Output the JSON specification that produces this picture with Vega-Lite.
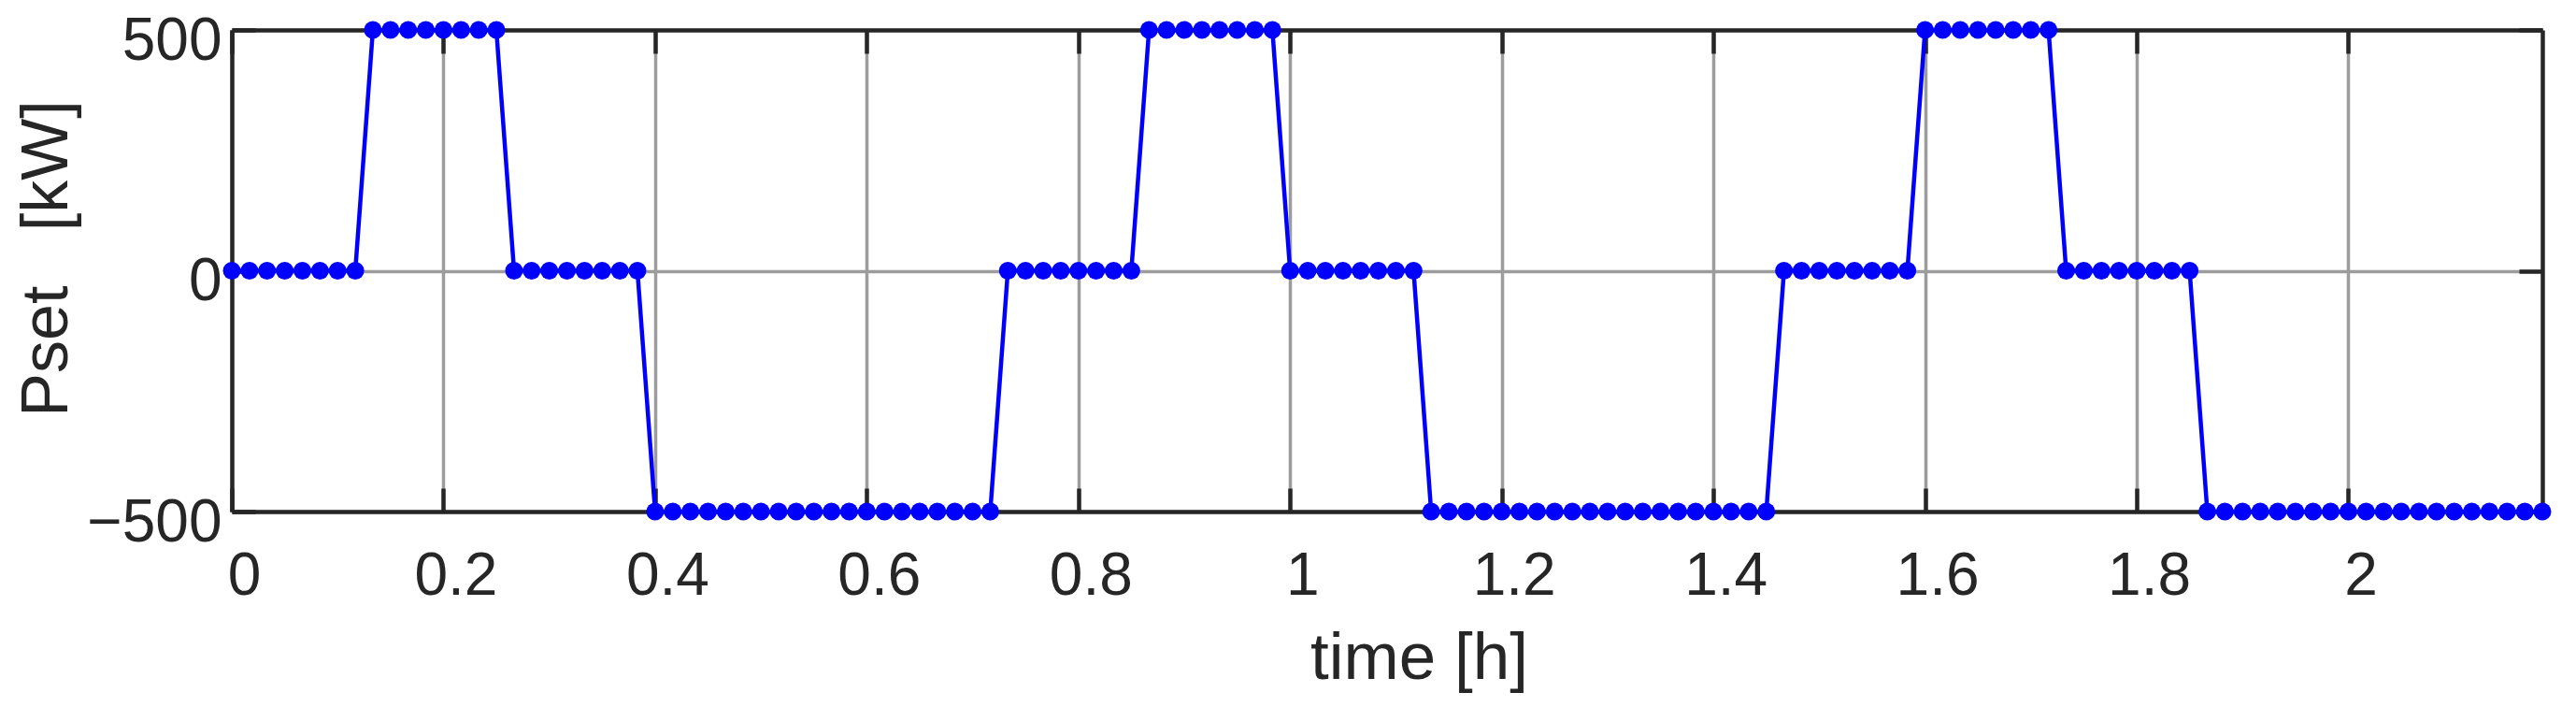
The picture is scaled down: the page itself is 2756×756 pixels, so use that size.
{
  "$schema": "https://vega.github.io/schema/vega-lite/v6.json",
  "width": 2472,
  "height": 515,
  "autosize": {"type": "none"},
  "padding": {"left": 248, "top": 32, "right": 36, "bottom": 209},
  "background": "white",
  "config": {
    "view": {"stroke": null},
    "font": "Liberation Sans",
    "axis": {
      "domainColor": "#262626",
      "domainWidth": 4.5,
      "tickColor": "#262626",
      "tickWidth": 4.5,
      "tickSize": -25,
      "labelColor": "#262626",
      "labelFont": "Liberation Sans",
      "labelFontSize": 64,
      "titleColor": "#262626",
      "titleFont": "Liberation Sans",
      "titleFontWeight": "normal",
      "gridColor": "#9c9c9c",
      "gridWidth": 3.5,
      "gridOpacity": 1,
      "labelFlush": false,
      "labelOverlap": false,
      "labelBound": false
    }
  },
  "data": {
    "values": [
      {"t": 0, "p": 0}, {"t": 0.0167, "p": 0}, {"t": 0.0333, "p": 0}, {"t": 0.05, "p": 0},
      {"t": 0.0667, "p": 0}, {"t": 0.0833, "p": 0}, {"t": 0.1, "p": 0}, {"t": 0.1167, "p": 0},
      {"t": 0.1333, "p": 500}, {"t": 0.15, "p": 500}, {"t": 0.1667, "p": 500}, {"t": 0.1833, "p": 500},
      {"t": 0.2, "p": 500}, {"t": 0.2167, "p": 500}, {"t": 0.2333, "p": 500}, {"t": 0.25, "p": 500},
      {"t": 0.2667, "p": 0}, {"t": 0.2833, "p": 0}, {"t": 0.3, "p": 0}, {"t": 0.3167, "p": 0},
      {"t": 0.3333, "p": 0}, {"t": 0.35, "p": 0}, {"t": 0.3667, "p": 0}, {"t": 0.3833, "p": 0},
      {"t": 0.4, "p": -500}, {"t": 0.4167, "p": -500}, {"t": 0.4333, "p": -500}, {"t": 0.45, "p": -500},
      {"t": 0.4667, "p": -500}, {"t": 0.4833, "p": -500}, {"t": 0.5, "p": -500}, {"t": 0.5167, "p": -500},
      {"t": 0.5333, "p": -500}, {"t": 0.55, "p": -500}, {"t": 0.5667, "p": -500}, {"t": 0.5833, "p": -500},
      {"t": 0.6, "p": -500}, {"t": 0.6167, "p": -500}, {"t": 0.6333, "p": -500}, {"t": 0.65, "p": -500},
      {"t": 0.6667, "p": -500}, {"t": 0.6833, "p": -500}, {"t": 0.7, "p": -500}, {"t": 0.7167, "p": -500},
      {"t": 0.7333, "p": 0}, {"t": 0.75, "p": 0}, {"t": 0.7667, "p": 0}, {"t": 0.7833, "p": 0},
      {"t": 0.8, "p": 0}, {"t": 0.8167, "p": 0}, {"t": 0.8333, "p": 0}, {"t": 0.85, "p": 0},
      {"t": 0.8667, "p": 500}, {"t": 0.8833, "p": 500}, {"t": 0.9, "p": 500}, {"t": 0.9167, "p": 500},
      {"t": 0.9333, "p": 500}, {"t": 0.95, "p": 500}, {"t": 0.9667, "p": 500}, {"t": 0.9833, "p": 500},
      {"t": 1, "p": 0}, {"t": 1.0167, "p": 0}, {"t": 1.0333, "p": 0}, {"t": 1.05, "p": 0},
      {"t": 1.0667, "p": 0}, {"t": 1.0833, "p": 0}, {"t": 1.1, "p": 0}, {"t": 1.1167, "p": 0},
      {"t": 1.1333, "p": -500}, {"t": 1.15, "p": -500}, {"t": 1.1667, "p": -500}, {"t": 1.1833, "p": -500},
      {"t": 1.2, "p": -500}, {"t": 1.2167, "p": -500}, {"t": 1.2333, "p": -500}, {"t": 1.25, "p": -500},
      {"t": 1.2667, "p": -500}, {"t": 1.2833, "p": -500}, {"t": 1.3, "p": -500}, {"t": 1.3167, "p": -500},
      {"t": 1.3333, "p": -500}, {"t": 1.35, "p": -500}, {"t": 1.3667, "p": -500}, {"t": 1.3833, "p": -500},
      {"t": 1.4, "p": -500}, {"t": 1.4167, "p": -500}, {"t": 1.4333, "p": -500}, {"t": 1.45, "p": -500},
      {"t": 1.4667, "p": 0}, {"t": 1.4833, "p": 0}, {"t": 1.5, "p": 0}, {"t": 1.5167, "p": 0},
      {"t": 1.5333, "p": 0}, {"t": 1.55, "p": 0}, {"t": 1.5667, "p": 0}, {"t": 1.5833, "p": 0},
      {"t": 1.6, "p": 500}, {"t": 1.6167, "p": 500}, {"t": 1.6333, "p": 500}, {"t": 1.65, "p": 500},
      {"t": 1.6667, "p": 500}, {"t": 1.6833, "p": 500}, {"t": 1.7, "p": 500}, {"t": 1.7167, "p": 500},
      {"t": 1.7333, "p": 0}, {"t": 1.75, "p": 0}, {"t": 1.7667, "p": 0}, {"t": 1.7833, "p": 0},
      {"t": 1.8, "p": 0}, {"t": 1.8167, "p": 0}, {"t": 1.8333, "p": 0}, {"t": 1.85, "p": 0},
      {"t": 1.8667, "p": -500}, {"t": 1.8833, "p": -500}, {"t": 1.9, "p": -500}, {"t": 1.9167, "p": -500},
      {"t": 1.9333, "p": -500}, {"t": 1.95, "p": -500}, {"t": 1.9667, "p": -500}, {"t": 1.9833, "p": -500},
      {"t": 2, "p": -500}, {"t": 2.0167, "p": -500}, {"t": 2.0333, "p": -500}, {"t": 2.05, "p": -500},
      {"t": 2.0667, "p": -500}, {"t": 2.0833, "p": -500}, {"t": 2.1, "p": -500}, {"t": 2.1167, "p": -500},
      {"t": 2.1333, "p": -500}, {"t": 2.15, "p": -500}, {"t": 2.1667, "p": -500}, {"t": 2.1833, "p": -500}
    ]
  },
  "layer": [
    {
      "mark": {"type": "line", "color": "#0000ff", "strokeWidth": 4.5},
      "encoding": {
        "x": {
          "field": "t", "type": "quantitative",
          "scale": {"domain": [0, 2.1833], "nice": false, "zero": false},
          "axis": {
            "orient": "bottom",
            "values": [0, 0.2, 0.4, 0.6, 0.8, 1, 1.2, 1.4, 1.6, 1.8, 2],
            "format": "~g",
            "grid": true,
            "labelBaseline": "alphabetic",
            "labelPadding": 113,
            "labelOffset": 13,
            "title": "time [h]",
            "titleFontSize": 71,
            "titleX": 1270,
            "titleY": 178,
            "titleAlign": "center",
            "titleBaseline": "alphabetic"
          }
        },
        "y": {
          "field": "p", "type": "quantitative",
          "scale": {"domain": [-500, 500], "nice": false, "zero": false},
          "axis": {
            "orient": "left",
            "values": [-500, 0, 500],
            "format": "d",
            "grid": true,
            "labelAlign": "right",
            "labelBaseline": "alphabetic",
            "labelPadding": 36,
            "labelOffset": 31,
            "title": "Pset \u00a0 [kW]",
            "titleFontSize": 70,
            "titleAngle": 270,
            "titleX": -177,
            "titleY": 244,
            "titleAlign": "center",
            "titleBaseline": "alphabetic"
          }
        }
      }
    },
    {
      "mark": {"type": "circle", "color": "#0000ff", "size": 360, "opacity": 1},
      "encoding": {
        "x": {
          "field": "t", "type": "quantitative",
          "axis": {
            "orient": "top",
            "values": [0, 0.2, 0.4, 0.6, 0.8, 1, 1.2, 1.4, 1.6, 1.8, 2],
            "labels": false,
            "grid": false,
            "title": null
          }
        },
        "y": {
          "field": "p", "type": "quantitative",
          "axis": {
            "orient": "right",
            "values": [-500, 0, 500],
            "labels": false,
            "grid": false,
            "title": null
          }
        }
      }
    }
  ],
  "resolve": {"axis": {"x": "independent", "y": "independent"}}
}
